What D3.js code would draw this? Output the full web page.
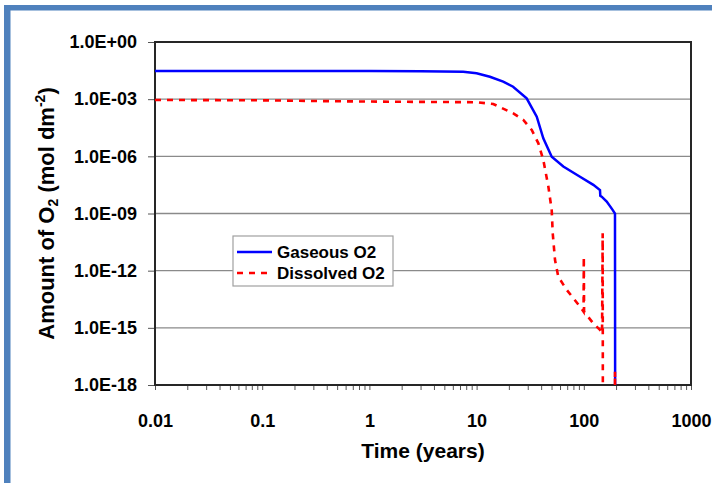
<!DOCTYPE html>
<html>
<head>
<meta charset="utf-8">
<script src="https://cdn.jsdelivr.net/npm/d3@7"></script>
<style>
  body { margin: 0; background: #fff; }
  svg { display: block; font-family: 'Liberation Sans', Arial, sans-serif; font-weight: bold; }
</style>
</head>
<body>
<div class="container"><svg></svg></div>
<script>
// data (time in years, amount in mol dm-2)
const gasTime = [0.01, 0.3, 1, 3, 7.5, 10, 13.3, 17.7, 21.9, 29.3, 36.4, 41.9, 50.2, 64.4, 92.2, 122.7, 141.6, 142.5, 146.8, 163.6, 185, 195.4, 196]
const gasValue = [3.0e-2, 3.0e-2, 3.0e-2, 2.95e-2, 2.75e-2, 2.3e-2, 1.5e-2, 8.3e-3, 4.5e-3, 1.1e-3, 1.2e-4, 8.9e-6, 9.5e-7, 2.9e-7, 8.5e-8, 3.2e-8, 1.7e-8, 8.5e-9, 7.6e-9, 4.2e-9, 1.6e-9, 1.0e-9, 1.0e-18]

const dissTime = [0.01, 0.03, 0.1, 0.3, 1.26, 5, 10, 14.3, 22, 27.3, 32.7, 37.7, 41.9, 46.7, 50.2, 51.3, 53.9, 57.8, 69.3, 92.2, 99.5, 100, 100.6, 122.7, 141.6, 148, 150, 151, 195, 195.4, 195.8]
const dissValue = [9.1e-4, 8.9e-4, 8.7e-4, 8.0e-4, 7.4e-4, 7.1e-4, 6.9e-4, 5.6e-4, 1.8e-4, 8.1e-5, 2.4e-5, 4.8e-6, 6.5e-7, 2.6e-8, 1.5e-9, 9.1e-11, 3.6e-12, 4.8e-13, 9.8e-14, 1.3e-14, 7.1e-15, 5.4e-12, 7.1e-15, 1.7e-15, 7.8e-16, 5.1e-16, 9.1e-11, 1e-25, 1e-25, 5.0e-18, 1e-25]

const xTicks = [0.01, 0.1, 1, 10, 100, 1000]
const xTickLabels = ['0.01', '0.1', '1', '10', '100', '1000']
const yTicks = [1, 1e-3, 1e-6, 1e-9, 1e-12, 1e-15, 1e-18]
const yTickLabels = ['1.0E+00', '1.0E-03', '1.0E-06', '1.0E-09', '1.0E-12', '1.0E-15', '1.0E-18']

const seriesNames = ['Gaseous O2', 'Dissolved O2']

// dimensions
const fullWidth = 712
const fullHeight = 483
const margin = { top: 42, left: 155, right: 21, bottom: 98 }
const width = fullWidth - margin.left - margin.right
const height = fullHeight - margin.top - margin.bottom

const blue = '#0000ff'
const red = '#ff0000'
const dash = '6,6'

const $svg = d3.select('svg').attr('width', fullWidth).attr('height', fullHeight)

// page frame
$svg.append('rect').attr('x', 4).attr('y', 5).attr('width', fullWidth).attr('height', 5.5).attr('fill', '#4f81bd')
$svg.append('rect').attr('x', 4).attr('y', 5).attr('width', 6.5).attr('height', fullHeight).attr('fill', '#4f81bd')

const scaleX = d3.scaleLog().domain([0.01, 1000]).range([0, width])
const scaleY = d3.scaleLog().domain([1e-18, 1]).range([height, 0])

const $g = $svg.append('g').attr('transform', `translate(${margin.left}, ${margin.top})`)

$svg.append('defs').append('clipPath').attr('id', 'plot-clip')
  .append('rect').attr('width', width).attr('height', height)

// gridlines
$g.append('g')
  .selectAll('line')
  .data(yTicks.slice(1, -1))
  .join('line')
  .attr('x1', 0).attr('x2', width)
  .attr('y1', d => scaleY(d)).attr('y2', d => scaleY(d))
  .attr('stroke', '#8a8a8a')
  .attr('stroke-width', 1.3)

// x axis with minor ticks
const minorX = []
xTicks.slice(0, -1).forEach(t => { for (let k = 2; k < 10; k++) minorX.push(t * k) })

$g.append('g')
  .attr('transform', `translate(0, ${height})`)
  .call(d3.axisBottom(scaleX).tickValues(minorX).tickSize(5).tickFormat(''))
  .call(g => g.select('.domain').remove())
  .call(g => g.selectAll('line').attr('stroke', '#555'))

$g.append('g')
  .attr('transform', `translate(0, ${height})`)
  .call(d3.axisBottom(scaleX)
    .tickValues(xTicks)
    .tickSize(5)
    .tickSizeOuter(0)
    .tickPadding(24)
    .tickFormat((d, i) => xTickLabels[i]))
  .call(g => g.select('.domain').remove())
  .call(g => g.selectAll('line').attr('stroke', '#555'))
  .call(g => g.selectAll('text').attr('fill', '#000').style('font-size', '18px').style('font-family', null))

$g.append('g')
  .call(d3.axisLeft(scaleY)
    .tickValues(yTicks)
    .tickSize(7)
    .tickSizeOuter(0)
    .tickPadding(11)
    .tickFormat((d, i) => yTickLabels[i]))
  .call(g => g.select('.domain').remove())
  .call(g => g.selectAll('line').attr('stroke', '#555'))
  .call(g => g.selectAll('text').attr('fill', '#000').style('font-size', '18px').style('font-family', null))

// plot frame
$g.append('rect')
  .attr('width', width).attr('height', height)
  .attr('fill', 'none').attr('stroke', '#262626').attr('stroke-width', 2)

// series
const line = d3.line().x(d => scaleX(d[0])).y(d => scaleY(d[1]))
const gasData = gasTime.map((t, i) => [t, gasValue[i]])
const dissData = dissTime.map((t, i) => [t, dissValue[i]])

const $plot = $g.append('g').attr('clip-path', 'url(#plot-clip)')

$plot.append('path')
  .datum(gasData)
  .attr('d', line)
  .attr('fill', 'none').attr('stroke', blue).attr('stroke-width', 2.5)

$plot.append('path')
  .datum(dissData)
  .attr('d', line)
  .attr('fill', 'none').attr('stroke', red).attr('stroke-width', 2.6)
  .attr('stroke-dasharray', dash)

// legend
const $legend = $svg.append('g').attr('transform', 'translate(233, 236)')
$legend.append('rect')
  .attr('width', 160).attr('height', 50)
  .attr('fill', '#fff').attr('stroke', '#a0a0a0').attr('stroke-width', 1.2)

const legendItems = $legend.selectAll('.legend__item')
  .data(seriesNames)
  .join('g')
  .attr('class', 'legend__item')
  .attr('transform', (d, i) => `translate(0, ${16 + i * 21})`)

legendItems.append('line')
  .attr('x1', 4).attr('x2', 39)
  .attr('stroke', (d, i) => i ? red : blue)
  .attr('stroke-width', 2.6)
  .attr('stroke-dasharray', (d, i) => i ? dash : null)

legendItems.append('text')
  .attr('x', 44).attr('y', 5.5)
  .style('font-size', '17px')
  .text(d => d)

// axis titles
$svg.append('text')
  .attr('x', margin.left + width / 2)
  .attr('y', 458)
  .attr('text-anchor', 'middle')
  .style('font-size', '21px')
  .text('Time (years)')

const yTitle = $svg.append('text')
  .attr('transform', `translate(54, ${margin.top + height / 2}) rotate(-90)`)
  .attr('text-anchor', 'middle')
  .style('font-size', '22px')
yTitle.append('tspan').text('Amount of O')
yTitle.append('tspan').attr('dy', 4).style('font-size', '14px').text('2')
yTitle.append('tspan').attr('dy', -4).text(' (mol dm')
yTitle.append('tspan').attr('dy', -9).style('font-size', '14px').text('-2')
yTitle.append('tspan').attr('dy', 9).text(')')
</script>
</body>
</html>
